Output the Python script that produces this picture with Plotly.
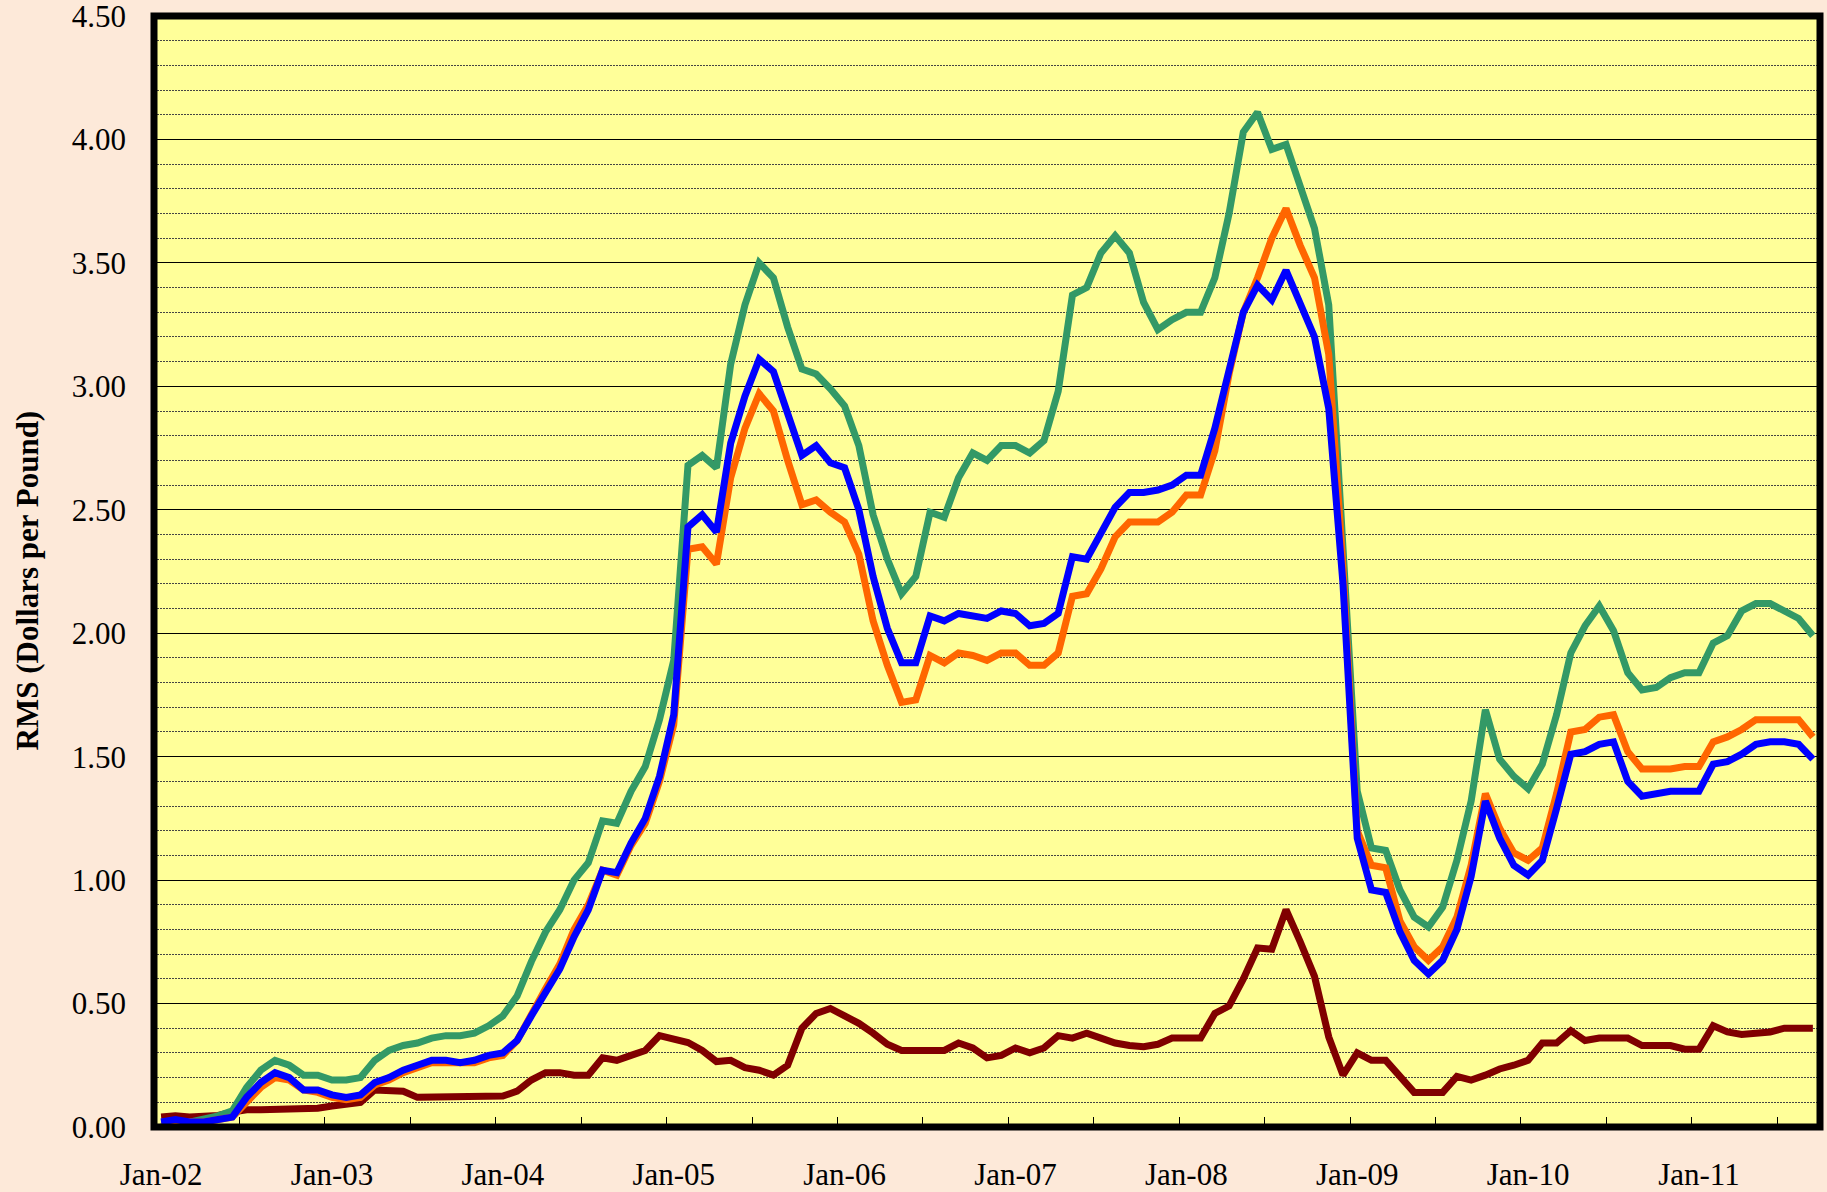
import plotly.graph_objects as go

# Monthly categories Jan-02 .. Sep-11
month_names = ["Jan", "Feb", "Mar", "Apr", "May", "Jun", "Jul", "Aug", "Sep", "Oct", "Nov", "Dec"]
months = [f"{m}-{y:02d}" for y in range(2, 12) for m in month_names][:117]

tick_labels = ["Jan-02", "Jan-03", "Jan-04", "Jan-05", "Jan-06", "Jan-07",
               "Jan-08", "Jan-09", "Jan-10", "Jan-11"]

green = [0.02, 0.00, 0.02, 0.03, 0.045, 0.065, 0.16, 0.23, 0.27, 0.25, 0.21, 0.21,
         0.19, 0.19, 0.20, 0.27, 0.31, 0.33, 0.34, 0.36, 0.37, 0.37, 0.38, 0.41,
         0.45, 0.53, 0.67, 0.79, 0.88, 1.00, 1.07, 1.24, 1.23, 1.36, 1.46, 1.65,
         1.89, 2.68, 2.72, 2.67, 3.09, 3.33, 3.50, 3.44, 3.24, 3.07, 3.05, 2.99,
         2.92, 2.76, 2.48, 2.30, 2.16, 2.23, 2.49, 2.47, 2.63, 2.73, 2.70, 2.76,
         2.76, 2.73, 2.78, 2.98, 3.37, 3.40, 3.54, 3.61, 3.54, 3.34, 3.23, 3.27,
         3.30, 3.30, 3.44, 3.70, 4.03, 4.11, 3.96, 3.98, 3.80, 3.64, 3.33, 2.40,
         1.36, 1.13, 1.12, 0.96, 0.85, 0.81, 0.89, 1.08, 1.32, 1.69, 1.49, 1.42,
         1.37, 1.47, 1.67, 1.92, 2.03, 2.11, 2.01, 1.84, 1.77, 1.78, 1.82, 1.84,
         1.84, 1.96, 1.99, 2.09, 2.12, 2.12, 2.09, 2.06, 1.99]

orange = [0.02, 0.02, 0.02, 0.02, 0.03, 0.04, 0.10, 0.16, 0.20, 0.19, 0.15, 0.14,
          0.12, 0.11, 0.12, 0.17, 0.19, 0.22, 0.24, 0.26, 0.26, 0.26, 0.26, 0.28,
          0.29, 0.35, 0.46, 0.56, 0.66, 0.80, 0.90, 1.04, 1.02, 1.14, 1.23, 1.40,
          1.63, 2.34, 2.35, 2.28, 2.63, 2.83, 2.97, 2.90, 2.70, 2.52, 2.54, 2.49,
          2.45, 2.32, 2.05, 1.87, 1.72, 1.73, 1.91, 1.88, 1.92, 1.91, 1.89, 1.92,
          1.92, 1.87, 1.87, 1.92, 2.15, 2.16, 2.26, 2.39, 2.45, 2.45, 2.45, 2.49,
          2.56, 2.56, 2.74, 3.05, 3.30, 3.44, 3.60, 3.72, 3.57, 3.44, 3.13, 2.27,
          1.20, 1.06, 1.05, 0.835, 0.73, 0.675, 0.73, 0.85, 1.06, 1.35, 1.21, 1.11,
          1.08, 1.13, 1.35, 1.60, 1.61, 1.66, 1.67, 1.52, 1.45, 1.45, 1.45, 1.46,
          1.46, 1.56, 1.58, 1.61, 1.65, 1.65, 1.65, 1.65, 1.58]

blue = [0.02, 0.03, 0.02, 0.02, 0.03, 0.04, 0.12, 0.18, 0.22, 0.20, 0.15, 0.15,
        0.13, 0.12, 0.13, 0.18, 0.20, 0.23, 0.25, 0.27, 0.27, 0.26, 0.27, 0.29,
        0.30, 0.35, 0.45, 0.55, 0.64, 0.77, 0.88, 1.04, 1.03, 1.15, 1.25, 1.42,
        1.67, 2.43, 2.48, 2.41, 2.77, 2.96, 3.11, 3.06, 2.89, 2.72, 2.76, 2.69,
        2.67, 2.50, 2.23, 2.02, 1.88, 1.88, 2.07, 2.05, 2.08, 2.07, 2.06, 2.09,
        2.08, 2.03, 2.04, 2.08, 2.31, 2.30, 2.41, 2.51, 2.57, 2.57, 2.58, 2.60,
        2.64, 2.64, 2.83, 3.06, 3.30, 3.41, 3.35, 3.47, 3.33, 3.20, 2.91, 2.20,
        1.17, 0.96, 0.95, 0.79, 0.675, 0.62, 0.675, 0.80, 1.015, 1.32, 1.17, 1.06,
        1.02, 1.08, 1.29, 1.51, 1.52, 1.55, 1.56, 1.40, 1.34, 1.35, 1.36, 1.36,
        1.36, 1.47, 1.48, 1.51, 1.55, 1.56, 1.56, 1.55, 1.49]

darkred = [0.04, 0.045, 0.04, 0.045, 0.047, 0.06, 0.07, 0.07, 0.07, 0.07, 0.07, 0.076,
           0.085, 0.095, 0.10, 0.15, 0.145, 0.145, 0.12, 0.12, 0.12, 0.12, 0.12, 0.12,
           0.125, 0.145, 0.19, 0.22, 0.22, 0.21, 0.21, 0.28, 0.27, 0.29, 0.31, 0.37,
           0.353, 0.342, 0.31, 0.265, 0.27, 0.24, 0.23, 0.21, 0.25, 0.40, 0.46, 0.48,
           0.45, 0.42, 0.38, 0.335, 0.31, 0.31, 0.31, 0.31, 0.34, 0.32, 0.28, 0.29,
           0.32, 0.30, 0.32, 0.37, 0.36, 0.38, 0.36, 0.34, 0.33, 0.325, 0.335, 0.36,
           0.36, 0.36, 0.46, 0.49, 0.60, 0.725, 0.72, 0.88, 0.75, 0.61, 0.365, 0.21,
           0.30, 0.27, 0.27, 0.20, 0.14, 0.14, 0.14, 0.205, 0.19, 0.21, 0.235, 0.25,
           0.27, 0.34, 0.34, 0.39, 0.35, 0.36, 0.36, 0.36, 0.33, 0.33, 0.33, 0.315,
           0.315, 0.41, 0.385, 0.375, 0.38, 0.385, 0.40, 0.40, 0.40]

y_ticks = [0.0, 0.5, 1.0, 1.5, 2.0, 2.5, 3.0, 3.5, 4.0, 4.5]

x = list(range(len(months)))
tick_pos = [months.index(t) for t in tick_labels]
boundary_ticks = [p + 0.5 for p in range(5, len(months) - 1, 6)]

FONT = "Liberation Serif, Times New Roman, serif"

fig = go.Figure()
series = [
    (darkred, "#800000"),
    (green, "#339966"),
    (orange, "#FF6600"),
    (blue, "#0000FF"),
]
for vals, col in series:
    fig.add_trace(go.Scatter(
        x=x, y=vals, mode="lines",
        line=dict(color=col, width=7, shape="linear"),
        customdata=months, hovertemplate="%{customdata}: %{y:.2f}<extra></extra>",
        showlegend=False,
    ))

fig.update_layout(
    width=1827, height=1192,
    margin=dict(l=154, r=7, t=16, b=65),
    paper_bgcolor="#FDE9D9",
    plot_bgcolor="#FFFF99",
    font=dict(family=FONT, size=31, color="black"),
    xaxis=dict(
        range=[-0.5, len(months) - 0.5],
        automargin=False,
        tickmode="array", tickvals=tick_pos, ticktext=tick_labels,
        ticks="", showgrid=False, zeroline=False, showline=False,
        ticklabelstandoff=26, ticklabeloverflow="allow",
        tickfont=dict(family=FONT, size=31, color="black"),
        minor=dict(tickmode="array", tickvals=boundary_ticks, ticks="inside",
                   ticklen=10, tickwidth=1.2, tickcolor="black", showgrid=False),
    ),
    yaxis=dict(
        range=[-0.0001, 4.5001],
        automargin=False,
        tickmode="array", tickvals=y_ticks, tickformat=".2f",
        ticks="", showgrid=True, gridcolor="black", gridwidth=1,
        zeroline=False, showline=False,
        ticklabelstandoff=27, ticklabeloverflow="allow",
        tickfont=dict(family=FONT, size=31, color="black"),
        minor=dict(dtick=0.1, tick0=0, showgrid=True, gridcolor="#444444",
                   gridwidth=1, griddash="2px,1px"),
    ),
    shapes=[dict(type="rect", xref="paper", yref="paper", x0=0, x1=1, y0=0, y1=1,
                 line=dict(color="black", width=7), layer="above")],
    annotations=[dict(
        text="<b>RMS (Dollars per Pound)</b>", xref="paper", yref="paper",
        x=(27 - 154) / 1666, y=0.492, xanchor="center", yanchor="middle",
        textangle=-90, showarrow=False,
        font=dict(family=FONT, size=31, color="black"),
    )],
)

fig.write_html("out.html", config={"displayModeBar": False},
               post_script="document.body.style.margin='0';")
